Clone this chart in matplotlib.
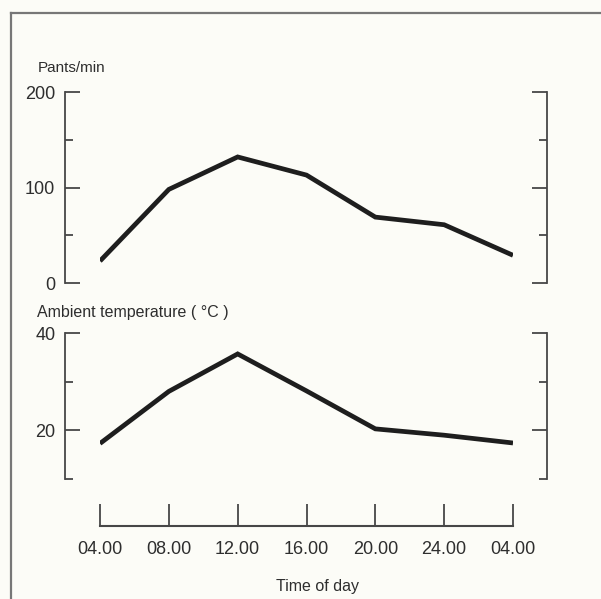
import matplotlib
matplotlib.use('Agg')
import matplotlib.pyplot as plt
from matplotlib.lines import Line2D
from matplotlib.ticker import FixedLocator

# data
hours = ['04.00', '08.00', '12.00', '16.00', '20.00', '24.00', '04.00']
pants = [23, 98, 132, 113, 69, 61, 29]
temp = [17.3, 28.0, 35.7, 28.1, 20.3, 19.0, 17.4]

W, H = 601, 599
bg = '#fcfcf7'
ink = '#1e1e1e'
axc = '#474747'
txt = '#2e2e2e'

plt.rcParams['font.family'] = ['Liberation Sans', 'DejaVu Sans']

fig = plt.figure(figsize=(W / 100, H / 100), dpi=100, facecolor=bg)


def px_axes(x0, x1, ytop, ybot):
    # axes placed with pixel coords (origin top-left)
    return fig.add_axes([x0 / W, (H - ybot) / H, (x1 - x0) / W, (ybot - ytop) / H])


x = list(range(len(hours)))
x0, x1 = 100, 513


def style_panel(ax, ymin, ymax, major, minor):
    ax.set_facecolor('none')
    ax.set_xlim(0, len(hours) - 1)
    ax.set_ylim(ymin, ymax)
    for s in ['top', 'bottom']:
        ax.spines[s].set_visible(False)
    ax.spines['left'].set_position(('outward', 25.2))
    ax.spines['right'].set_position(('outward', 24.2))
    for s in ['left', 'right']:
        ax.spines[s].set_color(axc)
        ax.spines[s].set_linewidth(1.3)
    ax.set_xticks([])
    ax.yaxis.set_major_locator(FixedLocator(major))
    ax.yaxis.set_minor_locator(FixedLocator(minor))
    ax.tick_params(axis='y', which='both', direction='in', left=True, right=True,
                   labelleft=True, labelright=False, color=axc, width=1.3,
                   labelsize=13, labelcolor=txt, pad=7)
    ax.tick_params(axis='y', which='major', length=11)
    ax.tick_params(axis='y', which='minor', length=6)


# top panel: pants per minute
ax1 = px_axes(x0, x1, 92, 283)
style_panel(ax1, 0, 200, [0, 100, 200], [50, 150])
ax1.plot(x, pants, color=ink, lw=3.4, solid_capstyle='butt', solid_joinstyle='miter')
fig.text(38 / W, 1 - 68 / H, 'Pants/min', fontsize=11, color=txt, va='center')

# bottom panel: ambient temperature
ax2 = px_axes(x0, x1, 333, 479)
style_panel(ax2, 10, 40, [20, 40], [10, 30])
ax2.plot(x, temp, color=ink, lw=3.4, solid_capstyle='butt', solid_joinstyle='miter')
fig.text(37 / W, 1 - 312 / H, 'Ambient temperature ( °C )', fontsize=11.5,
         color=txt, va='center')

# time axis below both panels
ax3 = px_axes(x0, x1, 505, 526)
ax3.set_facecolor('none')
ax3.set_xlim(0, len(hours) - 1)
for s in ['top', 'left', 'right']:
    ax3.spines[s].set_visible(False)
ax3.spines['bottom'].set_color(axc)
ax3.spines['bottom'].set_linewidth(1.5)
ax3.set_yticks([])
ax3.set_xticks(x)
ax3.set_xticklabels(hours)
ax3.tick_params(axis='x', direction='in', length=16, width=1.3, color=axc,
                labelsize=13, labelcolor=txt, pad=11)
fig.text(317 / W, 1 - 586 / H, 'Time of day', fontsize=11.5, color=txt,
         ha='center', va='center')

# scanned page frame
fig.add_artist(Line2D([11 / W, 1], [1 - 13 / H, 1 - 13 / H], transform=fig.transFigure,
                      color='#777777', lw=1.6))
fig.add_artist(Line2D([11 / W, 11 / W], [0, 1 - 13 / H], transform=fig.transFigure,
                      color='#777777', lw=1.6))

fig.savefig('out.png', dpi=100, facecolor=bg)
